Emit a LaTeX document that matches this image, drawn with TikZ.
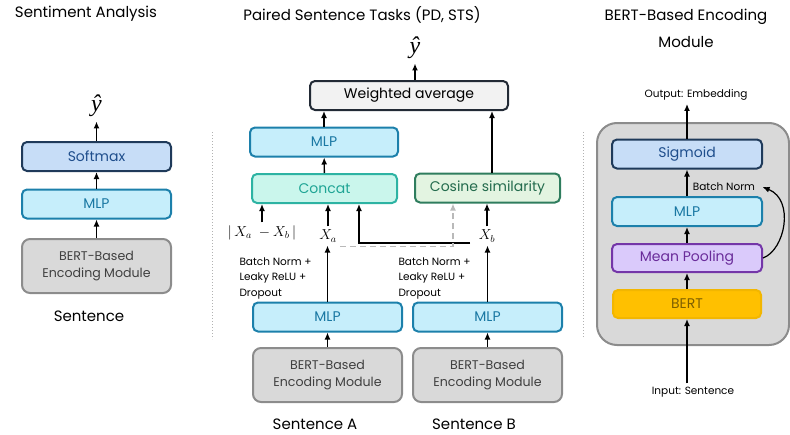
\documentclass[tikz,border=0pt]{standalone}
\usepackage{fontspec}
\setmainfont{Poppins}
\newfontfamily\hatfont{Liberation Serif}
\usetikzlibrary{arrows.meta}
\definecolor{sigfill}{HTML}{C7DDF7}
\definecolor{sigdraw}{HTML}{1F3A5A}
\definecolor{sigtext}{HTML}{1F4E8C}
\definecolor{mlpfill}{HTML}{C6EEFB}
\definecolor{mlpdraw}{HTML}{1C80AB}
\definecolor{mlptext}{HTML}{1A78A3}
\definecolor{catfill}{HTML}{CAF6EC}
\definecolor{catdraw}{HTML}{2DB3A3}
\definecolor{cattext}{HTML}{1FA595}
\definecolor{cosfill}{HTML}{E3F4E1}
\definecolor{cosdraw}{HTML}{2F7D5E}
\definecolor{costext}{HTML}{236B4D}
\definecolor{avgfill}{HTML}{F2F2F2}
\definecolor{avgdraw}{HTML}{222A35}
\definecolor{encfill}{HTML}{D9D9D9}
\definecolor{encdraw}{HTML}{8C8C8C}
\definecolor{enctext}{HTML}{404040}
\definecolor{poolfill}{HTML}{DACAFB}
\definecolor{pooldraw}{HTML}{7436A8}
\definecolor{pooltext}{HTML}{6A2C9A}
\definecolor{bertfill}{HTML}{FFC000}
\definecolor{bertdraw}{HTML}{F2B600}
\definecolor{berttext}{HTML}{7F6000}
\begin{document}
\begin{tikzpicture}[x=1pt, y=-1pt, >={Latex[length=7pt,width=6pt]},
    every node/.style={font=\fontsize{14}{16}\selectfont},
    blk/.style={rectangle, rounded corners=5pt, draw, line width=2pt, inner sep=0pt, minimum width=149pt, minimum height=29pt},
    sigbox/.style={blk, fill=sigfill, draw=sigdraw, text=sigtext},
    mlpbox/.style={blk, fill=mlpfill, draw=mlpdraw, text=mlptext},
    catbox/.style={blk, fill=catfill, draw=catdraw, text=cattext, minimum width=145pt},
    cosbox/.style={blk, fill=cosfill, draw=cosdraw, text=costext, minimum width=145pt},
    avgbox/.style={blk, fill=avgfill, draw=avgdraw, text=black, minimum width=198pt},
    encbox/.style={blk, rounded corners=8pt, fill=encfill, draw=encdraw, text=enctext, minimum height=54pt, align=center, font=\fontsize{12.6}{17}\selectfont},
    poolbox/.style={blk, fill=poolfill, draw=pooldraw, text=pooltext, minimum width=150pt},
    bertbox/.style={blk, fill=bertfill, draw=bertdraw, text=berttext, minimum width=148pt},
    title/.style={font=\fontsize{15}{27}\selectfont, align=center},
    sent/.style={font=\fontsize{15}{17}\selectfont},
    small/.style={font=\fontsize{10.5}{15.5}\selectfont, align=left},
    mathlbl/.style={font=\fontsize{14}{16}\selectfont},
    hatlbl/.style={font=\hatfont\itshape\fontsize{24}{26}\selectfont},
    link/.style={->, line width=1.4pt},
    dashlink/.style={->, line width=1.4pt, dash pattern=on 6pt off 4pt, gray!55}]
\useasboundingbox (0,0) rectangle (790,434);

% Sentiment Analysis
\node[title] (t1) at (86,14) {Sentiment Analysis};
\node[hatlbl] (yhat1) at (96.5,106) {ŷ};
\node[sigbox] (soft1) at (96.5,156.5) {Softmax};
\node[mlpbox] (mlp1) at (96.5,204) {MLP};
\node[encbox] (enc1) at (96.5,266) {BERT-Based\\Encoding Module};
\node[sent] (s1) at (89,316) {Sentence};
\draw[link] (enc1) -- (mlp1);
\draw[link] (mlp1) -- (soft1);
\draw[link] (soft1.north) -- ([yshift=-1pt]yhat1.south);

\draw[gray!60, dotted, line width=1pt] (212,132) -- (212,339);

% Paired Sentence Tasks
\node[title] (t2) at (362,15) {Paired Sentence Tasks (PD, STS)};
\node[hatlbl] (yhat2) at (415,48) {ŷ};
\node[avgbox] (wavg) at (409,95.5) {Weighted average};
\node[mlpbox, minimum width=148pt] (mlp2) at (324,142) {MLP};
\node[catbox] (cat) at (324.5,188.5) {Concat};
\node[cosbox] (cos) at (487.5,188) {Cosine similarity};
\node[mathlbl] (diff) at (262,233) {$|\,X_a\ -X_b\,|$};
\node[mathlbl] (xa) at (328,236) {$X_a$};
\node[mathlbl] (xb) at (487,236) {$X_b$};
\node[small, anchor=west] (bnA) at (236,278) {Batch Norm +\\Leaky ReLU +\\Dropout};
\node[small, anchor=west] (bnB) at (395,278) {Batch Norm +\\Leaky ReLU +\\Dropout};
\node[mlpbox] (mlpA) at (327.5,317) {MLP};
\node[mlpbox] (mlpB) at (487.5,317) {MLP};
\node[encbox] (encA) at (327.5,375) {BERT-Based\\Encoding Module};
\node[encbox] (encB) at (487.5,375) {BERT-Based\\Encoding Module};
\node[sent] (sA) at (315,424) {Sentence A};
\node[sent] (sB) at (474,424) {Sentence B};

\draw[link] (wavg.north -| yhat2) -- ([yshift=-1pt]yhat2.south);
\draw[link] (mlp2.north) -- (mlp2.north |- wavg.south);
\draw[link] ([xshift=4.5pt]cos.north) -- ([xshift=4.5pt]cos.north |- wavg.south);
\draw[link] (cat) -- (mlp2);
\draw[link] (diff.north) -- (diff.north |- cat.south);
\draw[link] (xa.north) -- (xa.north |- cat.south);
\draw[link] ([shift={(-5pt,-7pt)}]xb.west) -| ([xshift=34.5pt]cat.south);
\draw[dashlink] ([yshift=-1pt]xa.south east) -| ([xshift=-34.5pt]cos.south);
\draw[link] (xb.north) -- (xb.north |- cos.south);
\draw[link] (mlpA.north) -- (mlpA.north |- xa.south);
\draw[link] (mlpB.north) -- (mlpB.north |- xb.south);
\draw[link] (encA) -- (mlpA);
\draw[link] (encB) -- (mlpB);

\draw[gray!60, dotted, line width=1pt] (583,132) -- (583,337);

% BERT-Based Encoding Module
\node[title] (t3) at (686,28) {BERT-Based Encoding\\Module};
\draw[encdraw, fill=encfill, line width=2pt, rounded corners=20pt] (597,123) rectangle (789,345);
\node[small] (outl) at (696,95) {Output: Embedding};
\node[sigbox, minimum width=150pt] (sig) at (687,154) {Sigmoid};
\node[small] (bn) at (724,187) {Batch Norm};
\node[mlpbox, minimum width=150pt] (mlp3) at (687,211.5) {MLP};
\node[poolbox, minimum height=28pt] (pool) at (687,258) {Mean Pooling};
\node[bertbox, minimum height=28pt] (bert) at (687,304) {BERT};
\node[small] (inl) at (693,392) {Input: Sentence};

\draw[link] (sig.north) -- (sig.north |- outl.south);
\draw[link] (mlp3) -- (sig);
\draw[link] (pool) -- (mlp3);
\draw[link] (bert) -- (pool);
\draw[link] (bert.south |- inl.north) -- (bert.south);
\draw[->, line width=1.2pt] (pool.east) .. controls (785,250) and (795,200) .. ([xshift=4pt]bn.east);
\end{tikzpicture}
\end{document}
